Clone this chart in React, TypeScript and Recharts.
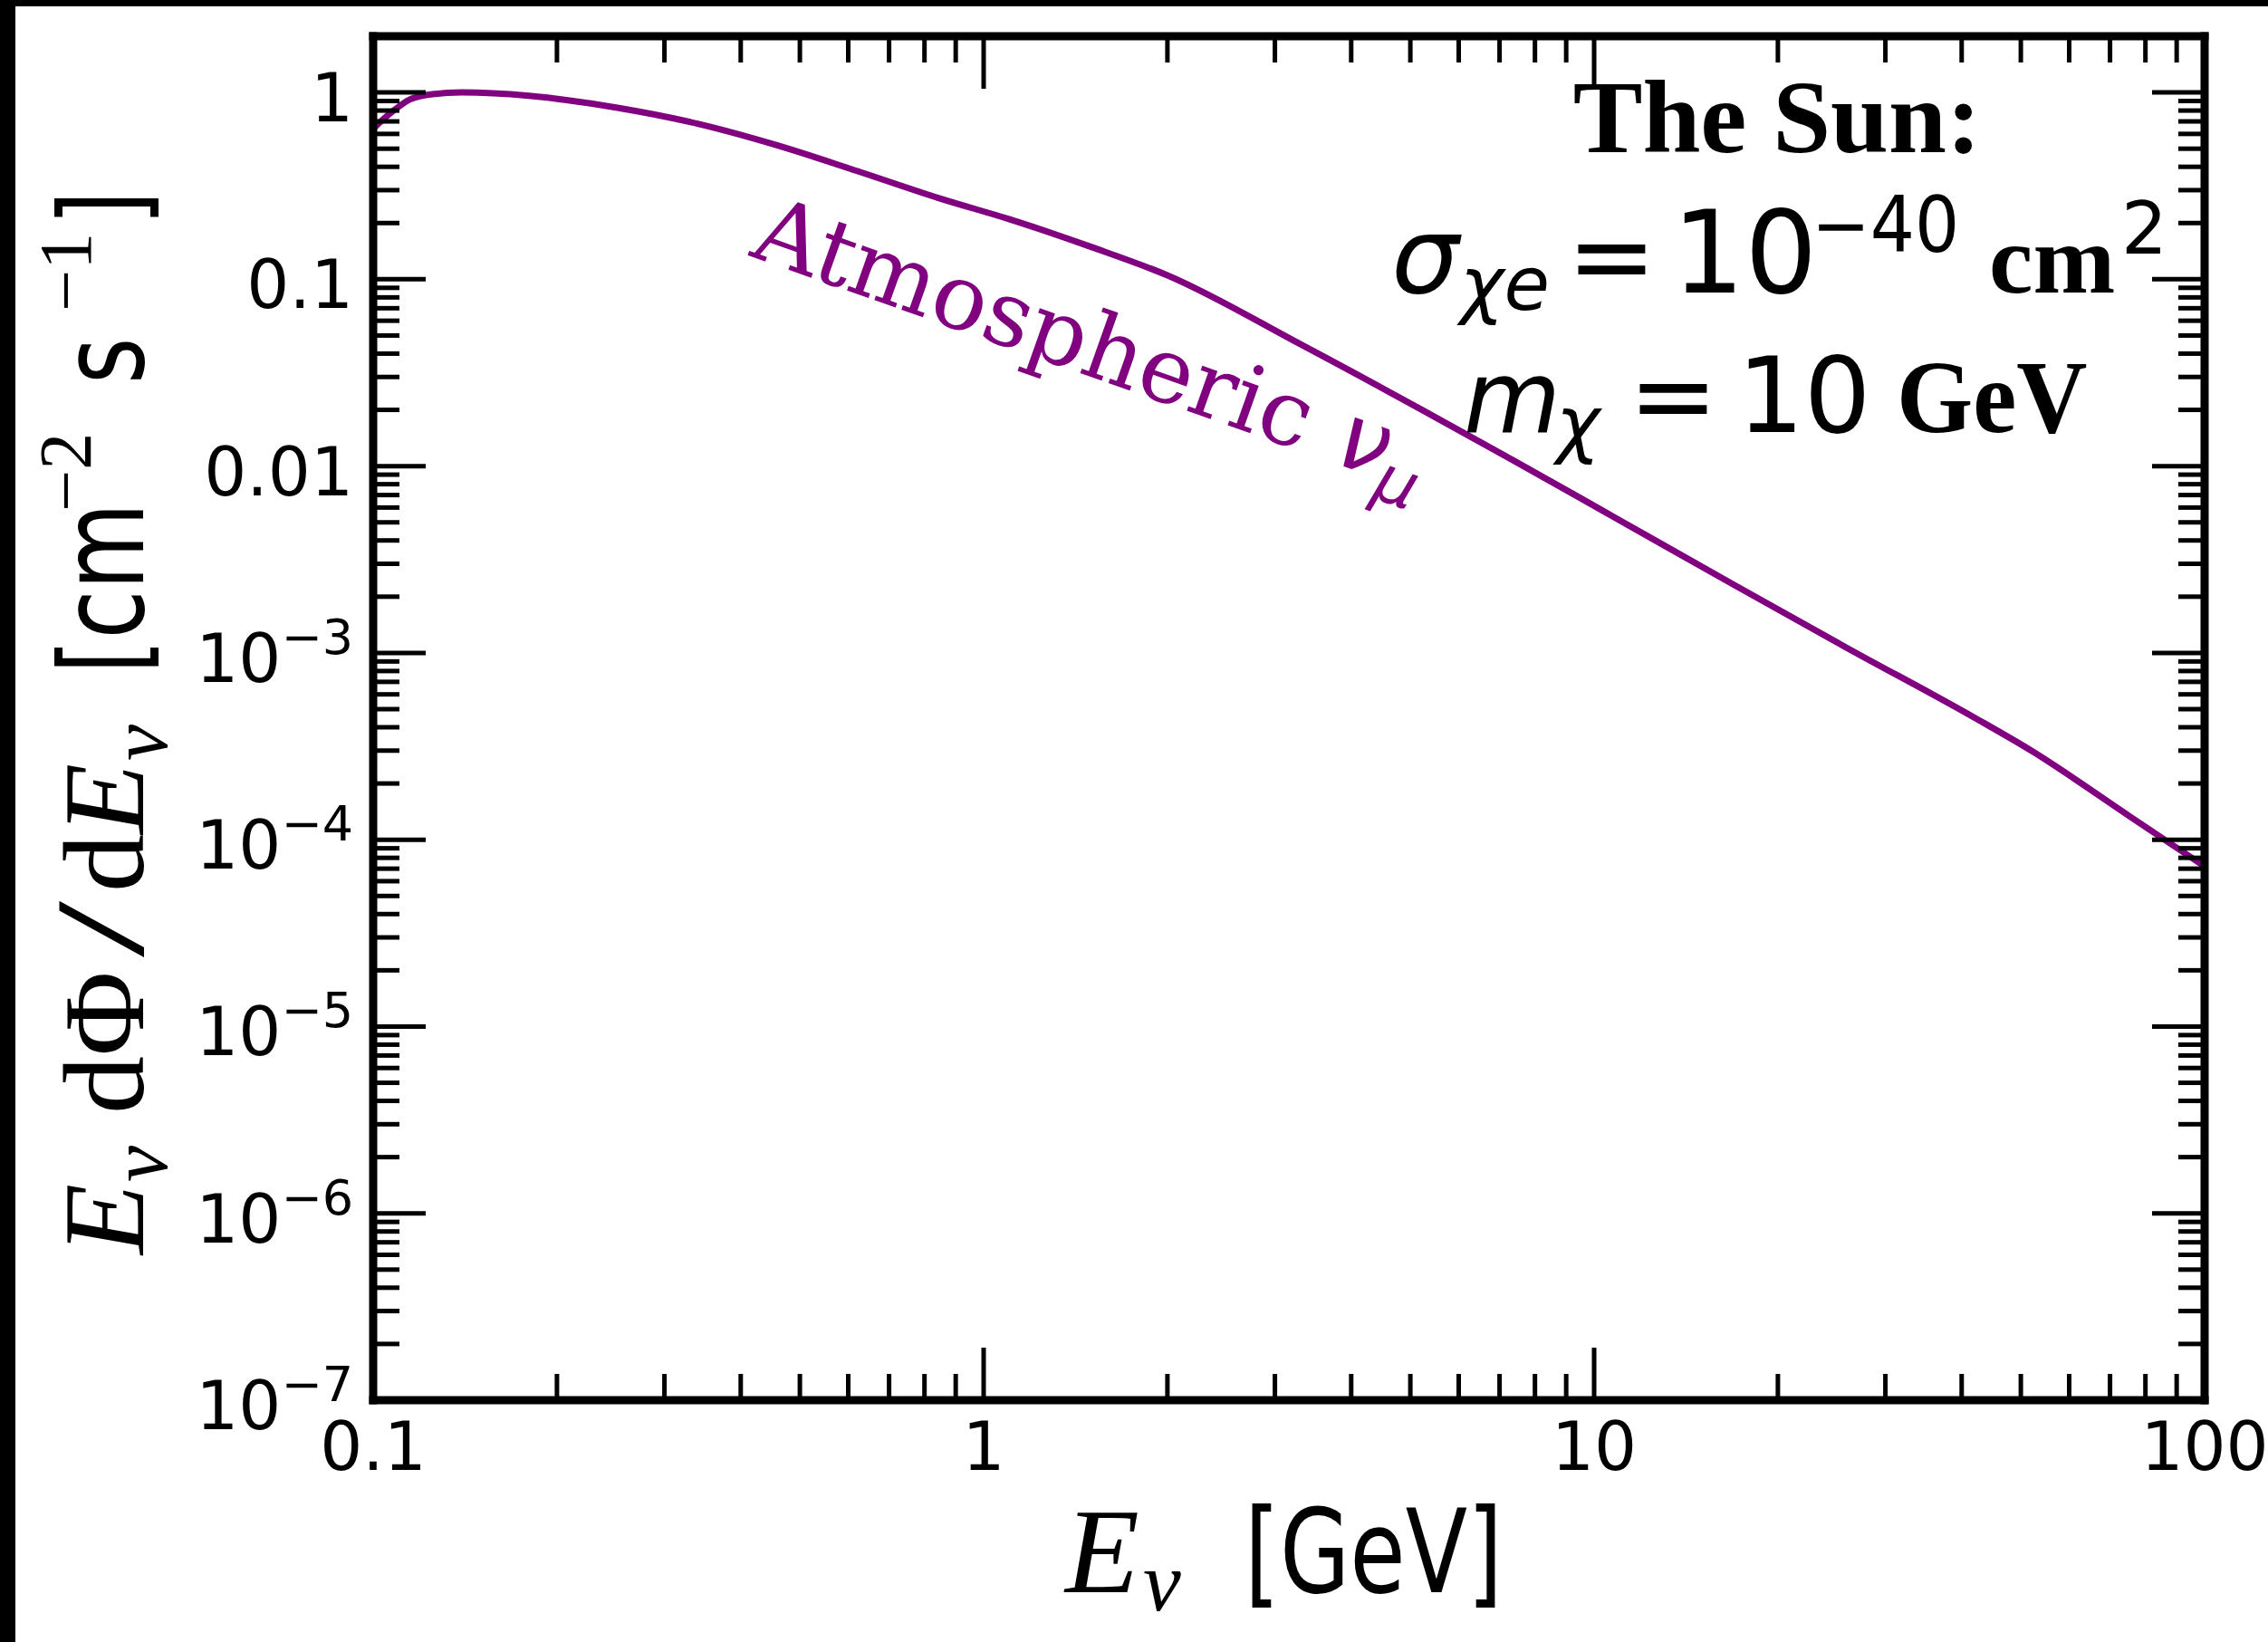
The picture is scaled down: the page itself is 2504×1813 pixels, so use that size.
import { Line, LineChart, XAxis, YAxis } from "recharts";

const W = 2504;
const H = 1813;

// neutrino energy [GeV] and flux E dPhi/dE [cm^-2 s^-1]
const energy = [0.1, 0.107, 0.115, 0.125, 0.14, 0.18, 0.25, 0.34, 0.46, 0.62, 0.85, 1.1, 1.5, 2.0, 3.3, 5.3, 7.5, 10.5, 17, 26, 42, 52, 75, 100];
const flux = [0.64, 0.78, 0.92, 0.98, 1.0, 0.96, 0.83, 0.68, 0.52, 0.38, 0.27, 0.21, 0.149, 0.105, 0.045, 0.0195, 0.0104, 0.0056, 0.0023, 1.06e-3, 4.5e-4, 3.0e-4, 1.35e-4, 7.2e-5];

const xMajor = [0.1, 1, 10, 100];
const xLabels = ["0.1", "1", "10", "100"];
const yMajor = [1e-7, 1e-6, 1e-5, 1e-4, 1e-3, 0.01, 0.1, 1];
const yLabels: [string, string][] = [
  ["10", "−7"],
  ["10", "−6"],
  ["10", "−5"],
  ["10", "−4"],
  ["10", "−3"],
  ["0.01", ""],
  ["0.1", ""],
  ["1", ""],
];

const data = energy.map((e, i) => ({ e, flux: flux[i] }));

const minors = (lo: number, hi: number) => {
  const out: number[] = [];
  for (let p = lo; p < hi; p++)
    for (let k = 2; k <= 9; k++) out.push(+(k * 10 ** p).toPrecision(3));
  return out;
};
const xTicks = [...xMajor, ...minors(-1, 2)].sort((a, b) => a - b);
const yTicks = [...yMajor, ...minors(-7, 0)].sort((a, b) => a - b);

const find = (arr: number[], v: number) => arr.findIndex((m) => Math.abs(m - v) / m < 1e-6);

const SANS = "'DejaVu Sans', sans-serif";
const SERIF = "'Liberation Serif', 'Times New Roman', serif";
const DSERIF = "'DejaVu Serif', serif";
const PURPLE = "#800080";
const MAJ = 58;
const MIN = 29;
const tickLine = { stroke: "#000", strokeWidth: 5 };

const BottomTick = ({ x, y, payload }: any) => {
  const i = find(xMajor, payload.value);
  return (
    <g>
      <line x1={x} x2={x} y1={y} y2={y - (i >= 0 ? MAJ : MIN)} {...tickLine} />
      {i >= 0 && (
        <text x={x} y={y + 77} textAnchor="middle" fontFamily={SANS} fontSize={74}>
          {xLabels[i]}
        </text>
      )}
    </g>
  );
};

const TopTick = ({ x, y, payload }: any) => {
  const i = find(xMajor, payload.value);
  return <line x1={x} x2={x} y1={y} y2={y + (i >= 0 ? MAJ : MIN)} {...tickLine} />;
};

const LeftTick = ({ x, y, payload }: any) => {
  const i = find(yMajor, payload.value);
  return (
    <g>
      <line x1={x} x2={x + (i >= 0 ? MAJ : MIN)} y1={y} y2={y} {...tickLine} />
      {i >= 0 && (
        <text x={x - 22} y={y + 32} textAnchor="end" fontFamily={SANS} fontSize={74}>
          {yLabels[i][0]}
          {yLabels[i][1] && (
            <tspan fontSize={54} dy={-31}>
              {yLabels[i][1]}
            </tspan>
          )}
        </text>
      )}
    </g>
  );
};

const RightTick = ({ x, y, payload }: any) => {
  const i = find(yMajor, payload.value);
  return <line x1={x} x2={x - (i >= 0 ? MAJ : MIN)} y1={y} y2={y} {...tickLine} />;
};

const frame = { stroke: "#000", strokeWidth: 9, strokeLinecap: "square" as const };

const Squeezed = ({ x, y, sx = 1, children, ...rest }: any) => (
  <g transform={`translate(${x},${y}) scale(${sx},1)`}>
    <text x={0} y={0} {...rest}>
      {children}
    </text>
  </g>
);

export default function App() {
  return (
    <div style={{ position: "absolute", left: 0, top: 0, width: W, height: H, background: "#000" }}>
      <div style={{ position: "absolute", left: 17, top: 7, right: 0, bottom: 0, background: "#fff" }} />
      <div style={{ position: "absolute", left: 0, top: 0 }}>
        <LineChart width={W} height={H} data={data} margin={{ top: 39, right: 69, bottom: 167, left: 292 }}>
          <XAxis
            xAxisId="bottom"
            dataKey="e"
            type="number"
            scale="log"
            domain={[0.1, 100]}
            allowDataOverflow
            ticks={xTicks}
            interval={0}
            height={100}
            tickSize={0}
            tickMargin={0}
            tickLine={false}
            axisLine={frame}
            tick={<BottomTick />}
          />
          <XAxis
            xAxisId="top"
            orientation="top"
            dataKey="e"
            type="number"
            scale="log"
            domain={[0.1, 100]}
            allowDataOverflow
            ticks={xTicks}
            interval={0}
            height={1}
            tickSize={0}
            tickMargin={0}
            tickLine={false}
            axisLine={frame}
            tick={<TopTick />}
          />
          <YAxis
            yAxisId="left"
            type="number"
            scale="log"
            domain={[1e-7, 2]}
            allowDataOverflow
            ticks={yTicks}
            interval={0}
            width={120}
            tickSize={0}
            tickMargin={0}
            tickLine={false}
            axisLine={frame}
            tick={<LeftTick />}
          />
          <YAxis
            yAxisId="right"
            orientation="right"
            type="number"
            scale="log"
            domain={[1e-7, 2]}
            allowDataOverflow
            ticks={yTicks}
            interval={0}
            width={1}
            tickSize={0}
            tickMargin={0}
            tickLine={false}
            axisLine={frame}
            tick={<RightTick />}
          />
          {/* invisible twin so the top/right mirror axes have a series */}
          <Line
            xAxisId="top"
            yAxisId="right"
            dataKey="flux"
            stroke="none"
            dot={false}
            activeDot={false}
            legendType="none"
            isAnimationActive={false}
          />
          <Line
            xAxisId="bottom"
            yAxisId="left"
            dataKey="flux"
            type="monotone"
            stroke={PURPLE}
            strokeWidth={7}
            dot={false}
            isAnimationActive={false}
          />
        </LineChart>
      </div>
      <svg width={W} height={H} style={{ position: "absolute", left: 0, top: 0, pointerEvents: "none" }}>
        {/* x axis label */}
        <text x={1176} y={1758} fontFamily={SERIF} fontStyle="italic" fontSize={134}>E</text>
        <text x={1262} y={1778} fontFamily={SERIF} fontStyle="italic" fontSize={94}>ν</text>
        <Squeezed x={1374} y={1758} sx={0.78} fontFamily={SANS} fontSize={128}>[GeV]</Squeezed>

        {/* y axis label */}
        <g transform="translate(158,1385) rotate(-90)">
          <text x={0} y={0} fontFamily={SERIF} fontStyle="italic" fontSize={128}>E</text>
          <text x={80} y={26} fontFamily={SERIF} fontStyle="italic" fontSize={90}>ν</text>
          <text x={155} y={0} fontFamily={SERIF} fontSize={128}>dΦ</text>
          <Squeezed x={328} y={0} sx={1.6} fontFamily={SERIF} fontSize={140}>/</Squeezed>
          <text x={400} y={0} fontFamily={SERIF} fontSize={128}>d</text>
          <text x={464} y={0} fontFamily={SERIF} fontStyle="italic" fontSize={128}>E</text>
          <text x={545} y={26} fontFamily={SERIF} fontStyle="italic" fontSize={90}>ν</text>
          <Squeezed x={641} y={0} sx={0.77} fontFamily={SANS} fontSize={128}>[cm</Squeezed>
          <text x={820} y={-58} fontFamily={SERIF} fontSize={82}>−2</text>
          <Squeezed x={961} y={0} sx={0.77} fontFamily={SANS} fontSize={128}>s</Squeezed>
          <text x={1041} y={-58} fontFamily={SERIF} fontSize={82}>−1</text>
          <Squeezed x={1136} y={0} sx={0.77} fontFamily={SANS} fontSize={128}>]</Squeezed>
        </g>

        {/* annotation block */}
        <text x={1962} y={168} textAnchor="middle" fontFamily={SERIF} fontWeight="bold" fontSize={115}>The Sun:</text>

        <text x={1536} y={323} fontFamily={SANS} fontStyle="italic" fontSize={118}>σ</text>
        <text x={1612} y={342} fontFamily={SANS} fontStyle="italic" fontSize={82}>χe</text>
        <text x={1730} y={323} fontFamily={SANS} fontSize={118}>=</text>
        <text x={1846} y={323} fontFamily={SANS} fontSize={126}>10</text>
        <Squeezed x={2000} y={278} sx={0.9} fontFamily={SANS} fontSize={86}>−40</Squeezed>
        <text x={2196} y={323} fontFamily={SERIF} fontWeight="bold" fontSize={109}>cm</text>
        <text x={2342} y={280} fontFamily={SANS} fontSize={80}>2</text>

        <text x={1616} y={477} fontFamily={SANS} fontStyle="italic" fontSize={110}>m</text>
        <text x={1718} y={496} fontFamily={SANS} fontStyle="italic" fontSize={82}>χ</text>
        <text x={1798} y={477} fontFamily={SANS} fontSize={118}>=</text>
        <text x={1918} y={477} fontFamily={SANS} fontSize={116}>10</text>
        <Squeezed x={2094} y={477} sx={0.95} fontFamily={SERIF} fontWeight="bold" fontSize={114}>GeV</Squeezed>

        {/* curve label */}
        <g transform="translate(826,282) rotate(19.5)" fill={PURPLE}>
          <text x={0} y={0} fontFamily={DSERIF} fontSize={101}>Atmospheric</text>
          <text x={682} y={0} fontFamily={SANS} fontStyle="italic" fontSize={101}>ν</text>
          <text x={736} y={22} fontFamily={SANS} fontStyle="italic" fontSize={72}>μ</text>
        </g>
      </svg>
    </div>
  );
}
